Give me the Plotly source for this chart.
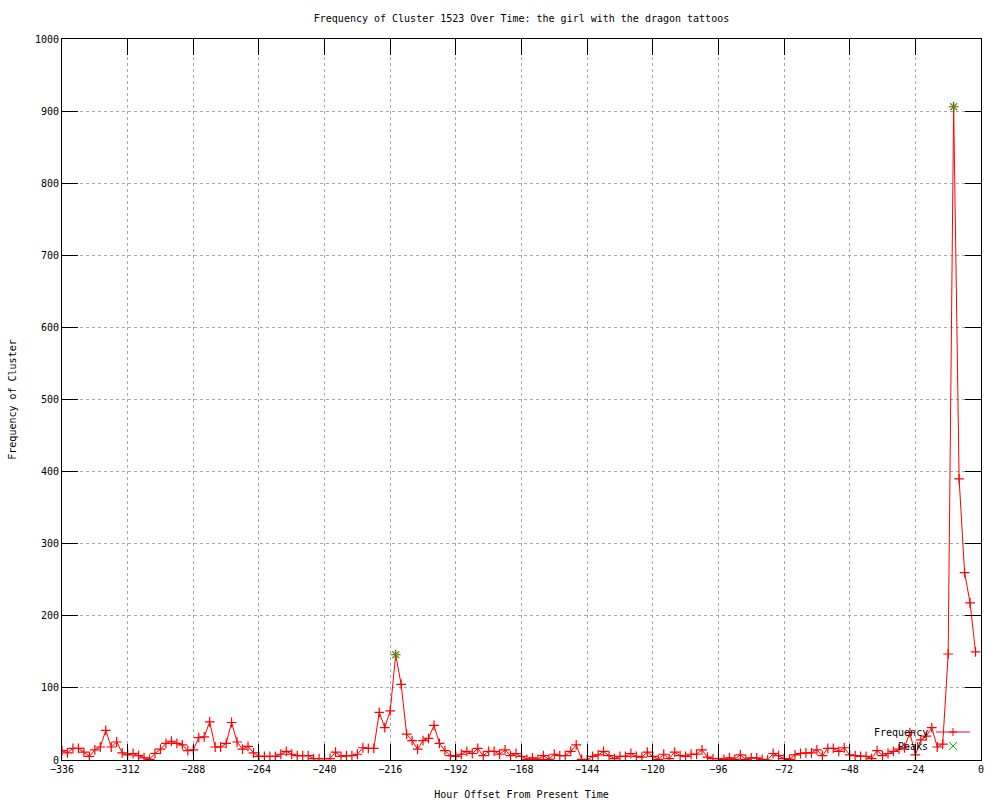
import plotly.graph_objects as go

# hourly offsets (every 2 hours) and cluster frequency
hours = list(range(-336, 0, 2))
freq = [13, 10, 16, 16, 11, 5, 14, 18, 41, 18, 25, 10, 7, 9, 6, 3, 1, 9, 15, 23,
        26, 23, 21, 13, 14, 31, 32, 53, 18, 18, 23, 52, 25, 15,
        19, 10, 5, 5, 5, 5, 8, 12, 8, 6, 6, 6, 2, 2, 2, 2, 11, 5, 6, 6, 8, 17, 16, 16,
        66, 45, 68, 146, 105, 36, 27, 15, 27, 30, 48, 23, 13, 6, 5, 8, 12, 9, 16, 6,
        12, 12, 8, 14, 6, 9, 5, 1, 3, 1, 6, 1, 8, 6, 6, 12, 21, 1, 0, 5, 7, 12, 6, 2,
        5, 5, 9, 5, 4, 11, 5, 1, 8, 2, 11, 6, 5, 8, 8, 14, 4, 2, 2, 1, 3, 1, 7, 1, 3, 3,
        1, 0, 9, 6, 2, 1, 7, 9, 10, 10, 14, 6, 16, 16, 12, 17, 7, 6, 5, 5, 2, 13, 6, 9,
        12, 15, 17, 38, 7, 28, 33, 45, 18, 22, 147, 906, 390, 260, 218, 150]

peak_hours = [-214, -10]
peak_freq = [146, 906]

x_ticks = list(range(-336, 1, 24))
y_ticks = list(range(0, 1001, 100))

FONT = "DejaVu Sans Mono"
RED = "#ff0000"
GREEN = "#00c000"

trace0 = go.Scatter(x=hours, y=freq,
                    name="Frequency",
                    mode="lines+markers",
                    line=dict(color=RED, width=1),
                    marker=dict(symbol="cross-thin", size=7,
                                line=dict(color=RED, width=1.2)),
                    showlegend=False)
trace1 = go.Scatter(x=peak_hours, y=peak_freq,
                    name="Peaks",
                    mode="markers",
                    marker=dict(symbol="x-thin", size=7,
                                line=dict(color=GREEN, width=1.2)),
                    showlegend=False)

axis_common = dict(showline=True, linecolor="black", linewidth=1, mirror="allticks",
                   ticks="inside", ticklen=16, tickcolor="black", tickwidth=1,
                   showgrid=True, gridcolor="#a8a8a8", griddash="dot", gridwidth=1,
                   zeroline=False, automargin=False,
                   tickfont=dict(family=FONT, size=10, color="black"))

layout = go.Layout(
    width=1000, height=800,
    margin=dict(l=62, r=19, t=39, b=40),
    paper_bgcolor="white", plot_bgcolor="white",
    font=dict(family=FONT, size=10, color="black"),
    title=dict(text="Frequency of Cluster 1523 Over Time: the girl with the dragon tattoos",
               x=0.5, xref="paper", y=1 - 18 / 800, yanchor="middle",
               font=dict(family=FONT, size=10, color="black")),
    xaxis=dict(range=[-336, 0], tickvals=x_ticks,
               title=dict(text="Hour Offset From Present Time", standoff=17,
                          font=dict(family=FONT, size=10)),
               **axis_common),
    yaxis=dict(range=[0, 1000], tickvals=y_ticks,
               title=dict(text="Frequency of Cluster", standoff=16,
                          font=dict(family=FONT, size=10)),
               **axis_common),
)

fig = go.Figure(data=[trace0, trace1], layout=layout)

# gnuplot style key, bottom right: text then sample
fig.add_annotation(x=0.9445, y=0.0388, xref="paper", yref="paper", text="Frequency",
                   showarrow=False, xanchor="right", yanchor="middle",
                   font=dict(family=FONT, size=10, color="black"))
fig.add_annotation(x=0.9445, y=0.0194, xref="paper", yref="paper", text="Peaks",
                   showarrow=False, xanchor="right", yanchor="middle",
                   font=dict(family=FONT, size=10, color="black"))
fig.add_shape(type="line", xref="paper", yref="paper", x0=0.951, x1=0.988,
              y0=0.0388, y1=0.0388, line=dict(color=RED, width=1))
# plus on the sample line
fig.add_shape(type="line", xref="paper", yref="paper", xsizemode="pixel", xanchor=0.9695,
              x0=-4, x1=4, y0=0.0388, y1=0.0388, line=dict(color=RED, width=1))
fig.add_shape(type="line", xref="paper", yref="paper", ysizemode="pixel", yanchor=0.0388,
              x0=0.9695, x1=0.9695, y0=-4, y1=4, line=dict(color=RED, width=1))
# green x for peaks
fig.add_shape(type="line", xref="paper", yref="paper", xsizemode="pixel", ysizemode="pixel",
              xanchor=0.9695, yanchor=0.0194, x0=-4, x1=4, y0=-4, y1=4,
              line=dict(color=GREEN, width=1))
fig.add_shape(type="line", xref="paper", yref="paper", xsizemode="pixel", ysizemode="pixel",
              xanchor=0.9695, yanchor=0.0194, x0=-4, x1=4, y0=4, y1=-4,
              line=dict(color=GREEN, width=1))

# drop the default page margin so the 1000x800 figure sits at the window origin
fig.write_html("out.html", config={"displayModeBar": False},
               post_script="document.body.style.margin = '0';")
